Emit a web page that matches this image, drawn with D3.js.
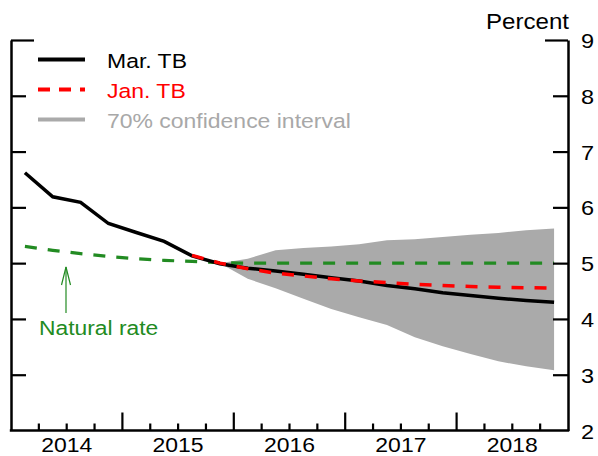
<!DOCTYPE html>
<html><head><meta charset="utf-8">
<script src="https://cdn.jsdelivr.net/npm/d3@7"></script>
<style>body{margin:0;background:#fff}svg{display:block}text{font-family:"Liberation Sans",Arial,sans-serif}</style>
</head><body>
<svg id="c" width="598" height="456"></svg>
<script>
// Quarters (2014Q1 .. 2018Q4), quarter midpoints
const quarters = [];
for (let y = 2014; y <= 2018; y++) for (let q = 1; q <= 4; q++) quarters.push(y + (q - 0.5) / 4);
const years = [2014, 2015, 2016, 2017, 2018];
const yTicks = [2, 3, 4, 5, 6, 7, 8, 9];

// Mar. TB (2014Q1 .. 2018Q4)
const marTB = [6.62, 6.19, 6.09, 5.71, 5.55, 5.39, 5.13, 4.99, 4.91, 4.86, 4.80, 4.74,
               4.68, 4.60, 4.54, 4.47, 4.42, 4.37, 4.33, 4.30];
// Jan. TB (2015Q3 .. 2018Q4)
const janTB = [5.14, 5.00, 4.90, 4.82, 4.77, 4.72, 4.68, 4.65, 4.62, 4.60, 4.58, 4.57, 4.56, 4.55];
// Natural rate (2014Q1 .. 2018Q4)
const natural = [5.30, 5.23, 5.17, 5.12, 5.08, 5.05, 5.03, 5.01, 5.00, 5.00, 5.00, 5.00,
                 5.00, 5.00, 5.00, 5.00, 5.00, 5.00, 5.00, 5.00];
// 70% confidence interval (2015Q4 .. 2018Q4)
const ciUpper = [5.00, 5.08, 5.23, 5.27, 5.30, 5.34, 5.41, 5.43, 5.47, 5.51, 5.54, 5.59, 5.62];
const ciLower = [5.00, 4.72, 4.55, 4.36, 4.18, 4.03, 3.89, 3.67, 3.51, 3.37, 3.24, 3.15, 3.08];

const svg = d3.select("#c");
const x = d3.scaleLinear().domain([2014, 2019]).range([11, 568]);
const y = d3.scaleLinear().domain([2, 9]).range([430.5, 40]);
const STRETCH = 1.12;
function stretch(sel, k) {
  sel.each(function () {
    const l = this.getComputedTextLength();
    d3.select(this).attr("textLength", l * (k || STRETCH)).attr("lengthAdjust", "spacingAndGlyphs");
  });
}

// confidence band
const band = quarters.slice(7).map((q, i) => ({ q, lo: ciLower[i], hi: ciUpper[i] }));
svg.append("path").datum(band)
  .attr("d", d3.area().x(d => x(d.q)).y0(d => y(d.lo)).y1(d => y(d.hi)))
  .attr("fill", "#aaaaaa");

const line = d3.line().x(d => x(d.q)).y(d => y(d.v));
// natural rate
svg.append("path").datum(quarters.map((q, i) => ({ q, v: natural[i] })))
  .attr("d", line).attr("fill", "none").attr("stroke", "#228b22")
  .attr("stroke-width", 3.2).attr("stroke-dasharray", "12,11");
// Mar TB
svg.append("path").datum(quarters.map((q, i) => ({ q, v: marTB[i] })))
  .attr("d", line)
  .attr("fill", "none").attr("stroke", "#000").attr("stroke-width", 3.5);
// Jan TB
svg.append("path").datum(quarters.slice(6).map((q, i) => ({ q, v: janTB[i] })))
  .attr("d", line)
  .attr("fill", "none").attr("stroke", "#ff0000").attr("stroke-width", 3.5)
  .attr("stroke-dasharray", "12,11");

// axes
const axL = svg.append("g").attr("transform", `translate(${x(2014)},0)`)
  .call(d3.axisRight(y).tickValues(yTicks).tickFormat("").tickSize(15).tickSizeOuter(0));
const axR = svg.append("g").attr("transform", `translate(${x(2019)},0)`)
  .call(d3.axisLeft(y).tickValues(yTicks).tickFormat(d => d).tickSize(15).tickSizeOuter(0));
[axL, axR].forEach(a => {
  a.select(".domain").attr("stroke-width", 2.5);
  a.selectAll(".tick line").attr("stroke-width", 2.2);
  a.selectAll(".tick").filter(d => d === 2).select("line").remove();
});
axL.selectAll(".tick").filter(d => d === 9).select("line").attr("x2", 23);
axR.selectAll(".tick").filter(d => d === 9).select("line").attr("x2", -23);
axR.selectAll(".tick text").attr("x", 13).attr("text-anchor", "start")
  .attr("font-size", 21).attr("fill", "#000").attr("dy", "0.36em").call(stretch);

// bottom axis
const qBounds = d3.range(1, 20).map(i => 2014 + i / 4);
const axB = svg.append("g").attr("transform", `translate(0,${y(2)})`);
axB.append("line").attr("x1", x(2014) - 1.2).attr("x2", x(2019) + 1.2)
  .attr("stroke", "#000").attr("stroke-width", 2.5);
axB.selectAll(".qt").data(qBounds).join("line")
  .attr("x1", d => x(d)).attr("x2", d => x(d))
  .attr("y1", 0).attr("y2", d => Number.isInteger(d) ? -18 : -7)
  .attr("stroke", "#000").attr("stroke-width", 2.2);
axB.selectAll(".yl").data(years).join("text")
  .attr("x", d => x(d + 0.5)).attr("y", 21.5).attr("text-anchor", "middle")
  .attr("font-size", 20.5).text(d => d).call(stretch);

// Percent label
svg.append("text").attr("x", 569).attr("y", 28.5).attr("text-anchor", "end")
  .attr("font-size", 21.5).text("Percent").call(stretch);

// legend
const legend = [
  { label: "Mar. TB", color: "#000", dash: null, width: 4, tcolor: "#000" },
  { label: "Jan. TB", color: "#ff0000", dash: "12,9", width: 4, tcolor: "#ff0000" },
  { label: "70% confidence interval", color: "#aaaaaa", dash: null, width: 4, tcolor: "#a8a8a8" }
];
const lg = svg.append("g");
legend.forEach((d, i) => {
  const cy = 59.5 + i * 30;
  lg.append("line").attr("x1", 38).attr("x2", 85).attr("y1", cy).attr("y2", cy)
    .attr("stroke", d.color).attr("stroke-width", d.width).attr("stroke-dasharray", d.dash);
  lg.append("text").attr("x", 107).attr("y", cy + 8.5).attr("font-size", 20.5)
    .attr("fill", d.tcolor).text(d.label).call(stretch);
});

// Natural rate annotation
const ax0 = 66;
svg.append("line").attr("x1", ax0).attr("x2", ax0).attr("y1", 267).attr("y2", 313)
  .attr("stroke", "#228b22").attr("stroke-width", 1.2);
svg.append("path").attr("d", `M${ax0 - 4.5},285 L${ax0},267 L${ax0 + 4.5},285`)
  .attr("fill", "none").attr("stroke", "#228b22").attr("stroke-width", 1.2);
svg.append("text").attr("x", 39).attr("y", 335).attr("font-size", 19.5)
  .attr("fill", "#228b22").text("Natural rate").call(stretch, 1.17);
</script>
</body></html>
